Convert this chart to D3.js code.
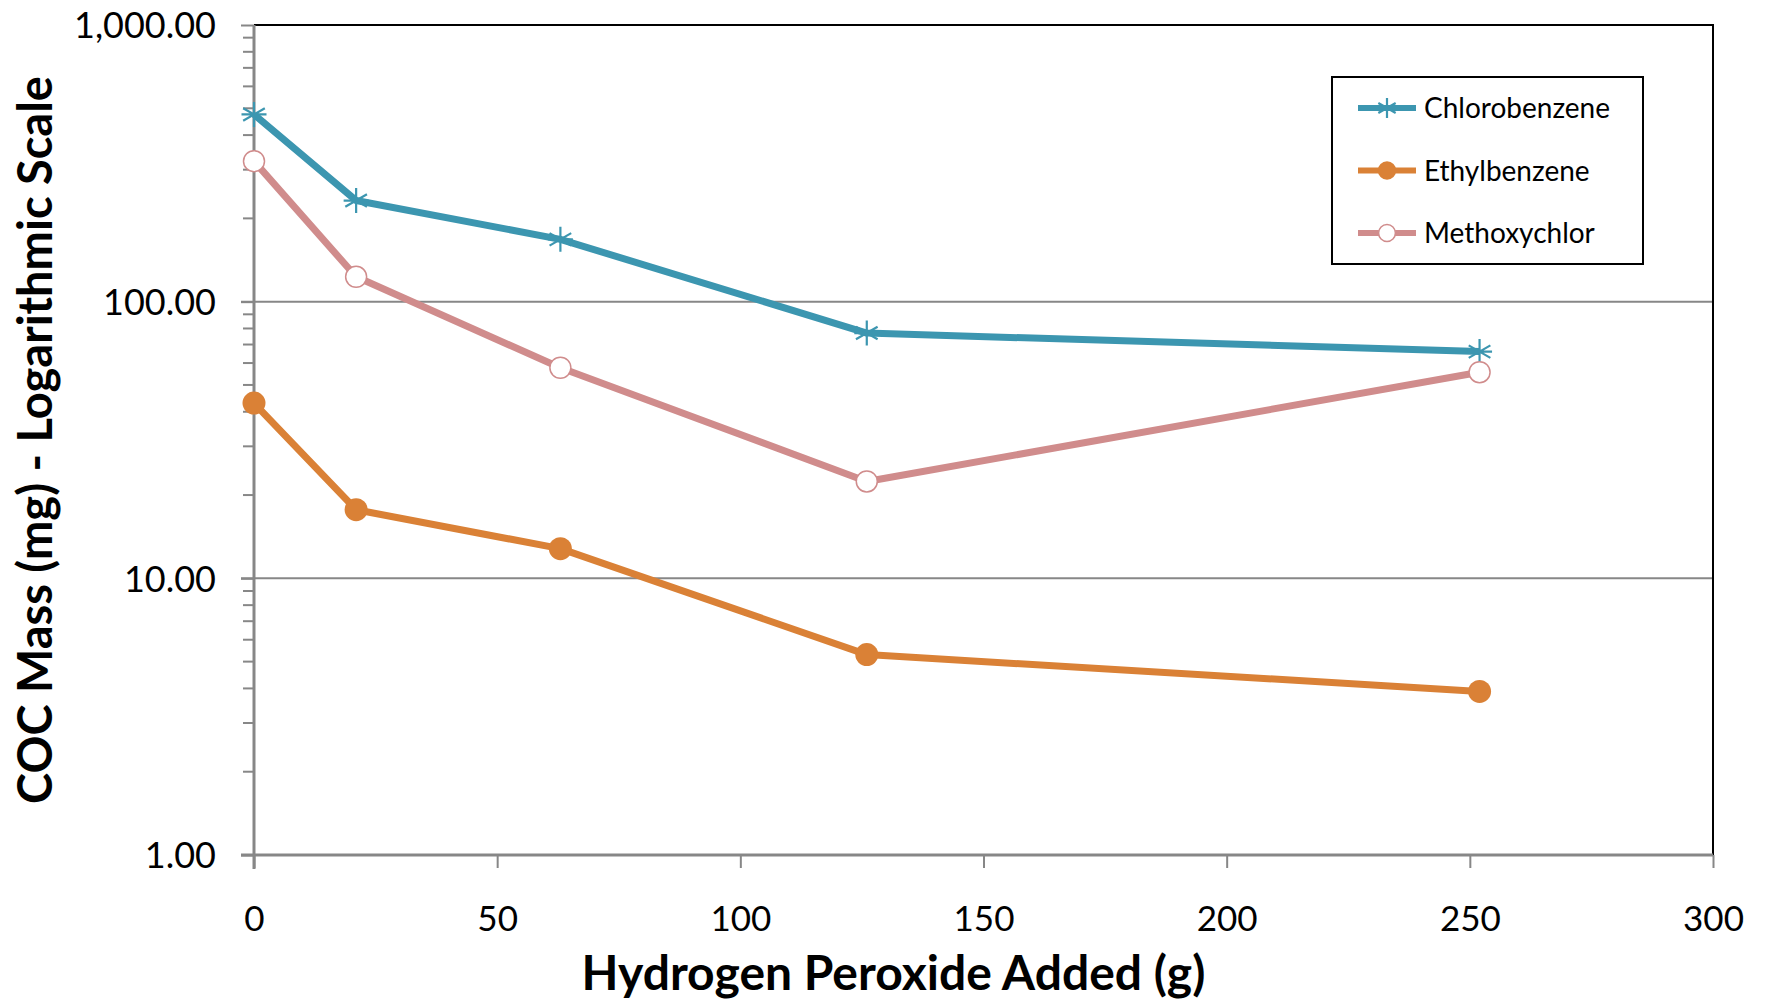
<!DOCTYPE html>
<head>
<meta charset="utf-8">
<script src="https://d3js.org/d3.v7.min.js"></script>
<style>
  body { margin: 0; background: #fff; }
  text { font-family: Lato, "Open Sans", sans-serif; fill: #000; }
</style>
</head>
<body>
<div id="my_dataviz"></div>
<script>

// data
var peroxide = [0, 21, 63, 126, 252];
var chlorobenzene = [475, 232, 168, 77, 66];
var ethylbenzene = [43, 17.7, 12.8, 5.3, 3.9];
var methoxychlor = [322, 123, 57.7, 22.4, 55.6];
var seriesNames = ["Chlorobenzene", "Ethylbenzene", "Methoxychlor"];
var xTicks = [0, 50, 100, 150, 200, 250, 300];
var yTicks = [1, 10, 100, 1000];

var colors = {Chlorobenzene: "#3c96b0", Ethylbenzene: "#da8136", Methoxychlor: "#d08c8c"};

var W = 1765, H = 1001;
var pLeft = 254, pRight = 1713, pTop = 25, pBottom = 855;

var svg = d3.select("#my_dataviz")
  .append("svg")
    .attr("width", W)
    .attr("height", H);

var x = d3.scaleLinear().domain([0, 300]).range([pLeft, pRight]);
var y = d3.scaleLog().domain([1, 1000]).range([pBottom, pTop]);

// gridlines at 10 and 100
svg.append("g")
  .selectAll("line")
  .data([10, 100])
  .enter()
  .append("line")
    .attr("x1", pLeft - 13).attr("x2", pRight)
    .attr("y1", function(d){ return y(d); })
    .attr("y2", function(d){ return y(d); })
    .attr("stroke", "#878787")
    .attr("stroke-width", 2);

// top and right border
svg.append("path")
  .attr("d", "M" + pLeft + "," + pTop + "H" + pRight + "V" + pBottom)
  .attr("fill", "none")
  .attr("stroke", "#000")
  .attr("stroke-width", 2);

// minor ticks on y
var minor = [];
[1, 10, 100].forEach(function(b){ for (var k = 2; k <= 9; k++) minor.push(b * k); });
svg.append("g")
  .selectAll("line")
  .data(minor)
  .enter()
  .append("line")
    .attr("x1", pLeft - 11).attr("x2", pLeft)
    .attr("y1", function(d){ return y(d); })
    .attr("y2", function(d){ return y(d); })
    .attr("stroke", "#878787")
    .attr("stroke-width", 2);

// y axis
var yAxis = svg.append("g")
  .attr("transform", "translate(" + pLeft + ",0)")
  .call(d3.axisLeft(y).tickValues(yTicks).tickSize(13).tickPadding(25)
    .tickFormat(d3.format(",.2f")));
yAxis.select(".domain").attr("stroke", "#878787").attr("stroke-width", 3)
  .attr("d", "M0," + pTop + "V" + (pBottom + 14));
yAxis.selectAll(".tick line").attr("stroke", "#878787").attr("stroke-width", 2);
yAxis.selectAll(".tick text")
  .attr("font-size", 36)
  .attr("font-family", "Lato, sans-serif")
  .attr("dy", "0.36em");

// x axis
var xAxis = svg.append("g")
  .attr("transform", "translate(0," + pBottom + ")")
  .call(d3.axisBottom(x).tickValues(xTicks).tickSize(13).tickPadding(38));
xAxis.select(".domain").attr("stroke", "#878787").attr("stroke-width", 3)
  .attr("d", "M" + (pLeft - 13) + ",0H" + pRight);
xAxis.selectAll(".tick line").attr("stroke", "#878787").attr("stroke-width", 2);
xAxis.selectAll(".tick text")
  .attr("font-size", 35)
  .attr("font-family", "Lato, sans-serif");

// axis titles
svg.append("text")
  .attr("text-anchor", "middle")
  .attr("x", (pLeft + pRight) / 2 - 90)
  .attr("y", 990)
  .attr("font-size", 48)
  .attr("font-weight", "bold")
  .text("Hydrogen Peroxide Added (g)");

svg.append("text")
  .attr("text-anchor", "middle")
  .attr("transform", "translate(52," + 440 + ") rotate(-90)")
  .attr("font-size", 47)
  .attr("font-weight", "bold")
  .text("COC Mass (mg) - Logarithmic Scale");

// series
var allSeries = [
  {name: "Chlorobenzene", values: chlorobenzene},
  {name: "Ethylbenzene", values: ethylbenzene},
  {name: "Methoxychlor", values: methoxychlor}
];

var line = d3.line()
  .x(function(d){ return x(d[0]); })
  .y(function(d){ return y(d[1]); });

function starPath(r) {
  var p = "";
  [0, 60, 120].forEach(function(a){
    var t = a * Math.PI / 180;
    p += "M" + (-r * Math.sin(t)) + "," + (-r * Math.cos(t)) + "L" + (r * Math.sin(t)) + "," + (r * Math.cos(t));
  });
  return p + "M" + (-r) + ",0L" + r + ",0";
}

function drawMarker(g, name, cx, cy, scale) {
  var c = colors[name];
  if (name === "Chlorobenzene") {
    g.append("path")
      .attr("d", starPath(12.5 * scale))
      .attr("transform", "translate(" + cx + "," + cy + ")")
      .attr("stroke", c).attr("stroke-width", 2.2).attr("fill", "none");
  } else if (name === "Ethylbenzene") {
    g.append("circle").attr("cx", cx).attr("cy", cy).attr("r", 11.5 * scale)
      .attr("fill", c);
  } else {
    g.append("circle").attr("cx", cx).attr("cy", cy).attr("r", 10.5 * scale)
      .attr("fill", "#fff").attr("stroke", c).attr("stroke-width", 1.5);
  }
}

allSeries.forEach(function(s){
  var pts = peroxide.map(function(p, i){ return [p, s.values[i]]; });
  var g = svg.append("g");
  g.append("path")
    .datum(pts)
    .attr("d", line)
    .attr("fill", "none")
    .attr("stroke", colors[s.name])
    .attr("stroke-width", 7)
    .attr("stroke-linejoin", "round");
  pts.forEach(function(d){ drawMarker(g, s.name, x(d[0]), y(d[1]), 1); });
});

// legend
var legend = svg.append("g");
legend.append("rect")
  .attr("x", 1332).attr("y", 77)
  .attr("width", 311).attr("height", 187)
  .attr("fill", "#fff").attr("stroke", "#000").attr("stroke-width", 2);

seriesNames.forEach(function(name, i){
  var ly = 108 + i * 62.5;
  legend.append("line")
    .attr("x1", 1358).attr("x2", 1416)
    .attr("y1", ly).attr("y2", ly)
    .attr("stroke", colors[name]).attr("stroke-width", 6);
  drawMarker(legend, name, 1387, ly, 0.8);
  legend.append("text")
    .attr("x", 1424).attr("y", ly + 10)
    .attr("font-size", 28)
    .text(name);
});

</script>
</body>
